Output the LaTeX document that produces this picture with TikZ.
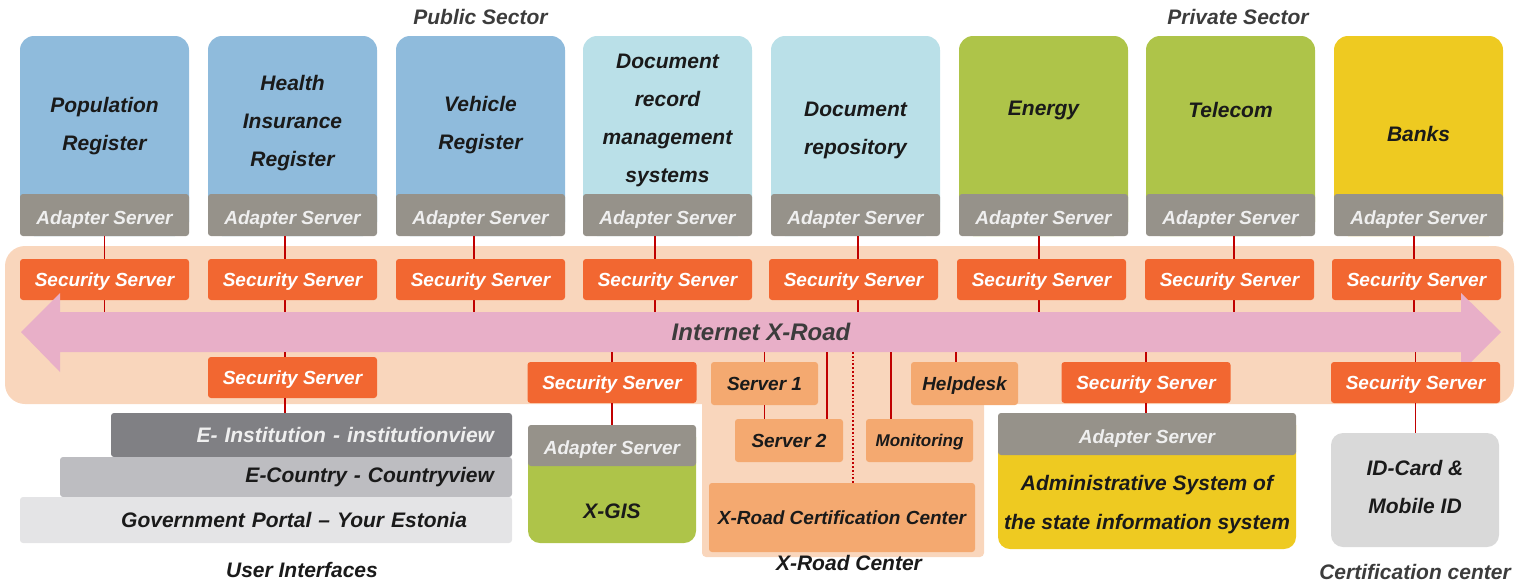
\documentclass[tikz,border=0pt]{standalone}
\usepackage{fontspec}
\setmainfont{Liberation Sans}
\usepackage{tikz}
\usetikzlibrary{positioning}
\definecolor{xBlue}{HTML}{8FBBDC}
\definecolor{xLtBlue}{HTML}{BAE0E8}
\definecolor{xGreen}{HTML}{AEC449}
\definecolor{xYellow}{HTML}{EECA21}
\definecolor{xAdapt}{HTML}{96928A}
\definecolor{xOrange}{HTML}{F26731}
\definecolor{xLtOrange}{HTML}{F4A970}
\definecolor{xPeach}{HTML}{F9D6BC}
\definecolor{xPink}{HTML}{E8AFC8}
\definecolor{xRed}{HTML}{C00000}
\definecolor{xIdGray}{HTML}{D9D9D9}
\definecolor{xInst}{HTML}{808084}
\definecolor{xCountry}{HTML}{BDBDC1}
\definecolor{xPortal}{HTML}{E4E4E6}
\definecolor{xInk}{HTML}{1A1A1A}
\definecolor{xHead}{HTML}{3C3C3C}
\definecolor{xLight}{HTML}{EFEFEF}
\newcommand{\srvfont}{\fontsize{19}{22}\selectfont\bfseries\itshape}
\newcommand{\boxfont}{\fontsize{21}{38}\selectfont\bfseries\itshape}
\newcommand{\headfont}{\fontsize{21}{24}\selectfont\bfseries\itshape}
\begin{document}
\begin{tikzpicture}[x=1pt, y=-1pt,
  every node/.style={inner sep=0pt},
  bodybox/.style={rounded corners=14pt, minimum width=169pt, minimum height=200pt},
  adapter/.style={fill=xAdapt, rounded corners=3pt, minimum width=169pt, minimum height=42pt, text height=18pt, text depth=0pt, text=xLight, font=\srvfont},
  secsrv/.style={fill=xOrange, rounded corners=3pt, minimum width=169pt, minimum height=41pt, text depth=0pt, text=white, font=\srvfont},
  ctrbox/.style={fill=xLtOrange, rounded corners=3pt, minimum height=43pt, text depth=0pt, text=xInk, font=\srvfont},
  uibox/.style={rounded corners=3pt, align=right, inner xsep=18pt, font=\boxfont},
  boxtxt/.style={text=xInk, align=center, font=\boxfont},
  heading/.style={text=xHead, font=\headfont},
  link/.style={xRed, line width=1.8pt}]
\useasboundingbox (0,0) rectangle (1534,587);
% x-road backdrop
\fill[xPeach, rounded corners=20pt] (5,246) rectangle (1514,404);
\fill[xPeach, rounded corners=4pt] (702,395) rectangle (984,557);
\coordinate (roadT) at (761,312);
\coordinate (roadB) at (761,352);
% sector headings
\node[heading] (pub) at (480.5,17) {Public Sector};
\node[heading] (priv) at (1238,17) {Private Sector};
% public sector
\node[bodybox, fill=xBlue] (pop) at (104.5,136) {};
\node[adapter] (popA) at (104.5,215) {Adapter Server};
\node[boxtxt] (popT) at (104.5,126) {Population\\Register};
\node[bodybox, fill=xBlue] (hir) at (292.5,136) {};
\node[adapter] (hirA) at (292.5,215) {Adapter Server};
\node[boxtxt] (hirT) at (292.5,123.5) {Health\\Insurance\\Register};
\node[bodybox, fill=xBlue] (veh) at (480.5,136) {};
\node[adapter] (vehA) at (480.5,215) {Adapter Server};
\node[boxtxt] (vehT) at (480.5,125) {Vehicle\\Register};
\node[bodybox, fill=xLtBlue] (drm) at (667.5,136) {};
\node[adapter] (drmA) at (667.5,215) {Adapter Server};
\node[boxtxt] (drmT) at (667.5,120) {Document\\record\\management\\systems};
\node[bodybox, fill=xLtBlue] (drp) at (855.5,136) {};
\node[adapter] (drpA) at (855.5,215) {Adapter Server};
\node[boxtxt] (drpT) at (855.5,130) {Document\\repository};
% private sector
\node[bodybox, fill=xGreen] (nrg) at (1043.5,136) {};
\node[adapter] (nrgA) at (1043.5,215) {Adapter Server};
\node[boxtxt] (nrgT) at (1043.5,110) {Energy};
\node[bodybox, fill=xGreen] (tel) at (1230.5,136) {};
\node[adapter] (telA) at (1230.5,215) {Adapter Server};
\node[boxtxt] (telT) at (1230.5,110) {Telecom};
\node[bodybox, fill=xYellow] (bnk) at (1418.5,136) {};
\node[adapter] (bnkA) at (1418.5,215) {Adapter Server};
\node[boxtxt] (bnkT) at (1418.5,134) {Banks};
% links down to the road
\draw[link] (popA.south) -- (popA.south |- roadT);
\draw[link] ([xshift=-7.5pt]hirA.south) -- ([xshift=-7.5pt]hirA.south |- roadT);
\draw[link] ([xshift=-6.5pt]vehA.south) -- ([xshift=-6.5pt]vehA.south |- roadT);
\draw[link] ([xshift=-12.5pt]drmA.south) -- ([xshift=-12.5pt]drmA.south |- roadT);
\draw[link] ([xshift=2.5pt]drpA.south) -- ([xshift=2.5pt]drpA.south |- roadT);
\draw[link] ([xshift=-4.5pt]nrgA.south) -- ([xshift=-4.5pt]nrgA.south |- roadT);
\draw[link] ([xshift=3.5pt]telA.south) -- ([xshift=3.5pt]telA.south |- roadT);
\draw[link] ([xshift=-4.5pt]bnkA.south) -- ([xshift=-4.5pt]bnkA.south |- roadT);
% security servers
\node[secsrv] (popS) at (104.5,279.5) {Security Server};
\node[secsrv] (hirS) at (292.5,279.5) {Security Server};
\node[secsrv] (vehS) at (480.5,279.5) {Security Server};
\node[secsrv] (drmS) at (667.5,279.5) {Security Server};
\node[secsrv] (drpS) at (853.5,279.5) {Security Server};
\node[secsrv] (nrgS) at (1041.5,279.5) {Security Server};
\node[secsrv] (telS) at (1229.5,279.5) {Security Server};
\node[secsrv] (bnkS) at (1416.5,279.5) {Security Server};
% internet x-road
\fill[xPink] (21,332) -- (60,293) -- (60,312) -- (1461,312) -- (1461,293) -- (1501,332)
  -- (1461,372) -- (1461,352) -- (60,352) -- (60,372) -- cycle;
\node[text=xHead, font=\fontsize{24}{28}\selectfont\bfseries\itshape] (road) at (761,332) {Internet X-Road};
% user interfaces
\node[secsrv] (uiS) at (292.5,377.5) {Security Server};
\node[uibox, fill=xInst, text=xLight, minimum width=401pt, minimum height=44pt, text width=365pt] (inst) at (311.5,435) {E- Institution - institutionview};
\node[uibox, fill=xCountry, text=xInk, minimum width=452pt, minimum height=40pt, text width=416pt] (ctry) at (286,477) {E-Country - Countryview};
\node[uibox, fill=xPortal, text=xInk, minimum width=492pt, minimum height=46pt, inner xsep=45pt, text width=402pt] (portal) at (266,520) {Government Portal -- Your Estonia};
\node[heading, text=xInk] (uiL) at (302,570) {User Interfaces};
% x-gis
\node[secsrv] (gisS) at (612,382.5) {Security Server};
\node[bodybox, fill=xGreen, minimum width=168pt, minimum height=118pt, rounded corners=12pt] (gis) at (612,484) {};
\node[adapter, minimum width=168pt, minimum height=41pt] (gisA) at (612,445.5) {Adapter Server};
\node[boxtxt] (gisT) at (612,511) {X-GIS};
% x-road center
\node[ctrbox, minimum width=107pt] (srv1) at (764.5,383.5) {Server 1};
\node[ctrbox, minimum width=108pt] (srv2) at (789,440.5) {Server 2};
\node[ctrbox, minimum width=107pt, font=\fontsize{17}{20}\selectfont\bfseries\itshape] (mon) at (919.5,440.5) {Monitoring};
\node[ctrbox, minimum width=107pt] (help) at (964.5,383.5) {Helpdesk};
\node[ctrbox, minimum width=266pt, minimum height=69pt] (cert) at (842,517.5) {X-Road Certification Center};
\node[heading, text=xInk] (xrcL) at (849,563) {X-Road Center};
% administrative system
\node[secsrv] (admS) at (1146,382.5) {Security Server};
\node[bodybox, fill=xYellow, minimum width=298pt, minimum height=136pt, rounded corners=12pt] (adm) at (1147,481) {};
\node[adapter, minimum width=298pt] (admA) at (1147,434) {Adapter Server};
\node[boxtxt, font=\fontsize{21}{39}\selectfont\bfseries\itshape] (admT) at (1147,504.5) {Administrative System of\\the state information system};
% certification center
\node[secsrv] (idS) at (1415.5,382.5) {Security Server};
\node[fill=xIdGray, rounded corners=12pt, minimum width=168pt, minimum height=114pt] (id) at (1415,490) {};
\node[boxtxt] (idT) at (1415,486.5) {ID-Card \&\\Mobile ID};
\node[heading] (idL) at (1415,572) {Certification center};
% links below the road
\draw[link] ([xshift=-7.5pt]uiS.north |- roadB) -- ([xshift=-7.5pt]uiS.north);
\draw[link] ([xshift=-7.5pt]uiS.south) -- ([xshift=-7.5pt]uiS.south |- inst.north);
\draw[link] (gisS.north |- roadB) -- (gisS.north);
\draw[link] (gisS.south) -- (gisA.north);
\draw[link] (srv1.north |- roadB) -- (srv1.north);
\draw[link] (srv1.south) -- (srv1.south |- srv2.north);
\draw[link] ([xshift=38pt]srv2.north |- roadB) -- ([xshift=38pt]srv2.north);
\draw[link, dotted] ([xshift=11pt]cert.north |- roadB) -- ([xshift=11pt]cert.north);
\draw[link] ([xshift=-28.5pt]mon.north |- roadB) -- ([xshift=-28.5pt]mon.north);
\draw[link] ([xshift=-8.5pt]help.north |- roadB) -- ([xshift=-8.5pt]help.north);
\draw[link] (admS.north |- roadB) -- (admS.north);
\draw[link] (admS.south) -- (admS.south |- admA.north);
\draw[link] (idS.north |- roadB) -- (idS.north);
\draw[link] (idS.south) -- (idS.south |- id.north);
\end{tikzpicture}
\end{document}
